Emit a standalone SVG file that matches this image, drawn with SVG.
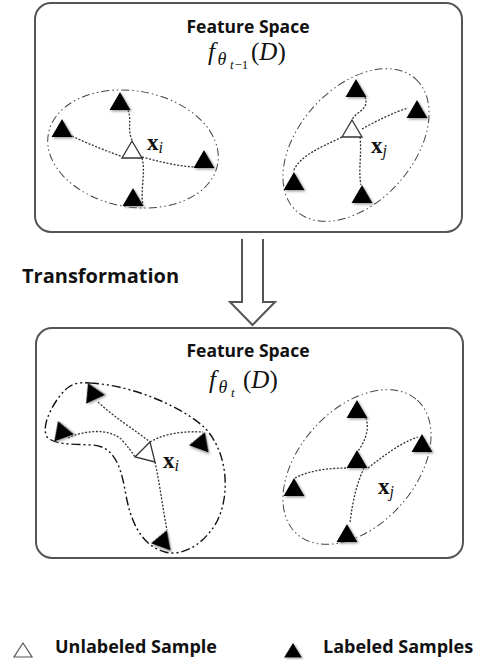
<svg xmlns="http://www.w3.org/2000/svg" xmlns:xlink="http://www.w3.org/1999/xlink" width="482" height="660" viewBox="0 0 482 660">
<style>
.box{fill:#fff;stroke:#555;stroke-width:2}
.title{font-family:"Open Sans","Liberation Sans",sans-serif;font-weight:bold;font-size:17.5px;fill:#111;text-anchor:middle}
.lbl{font-family:"Open Sans","Liberation Sans",sans-serif;font-weight:bold;fill:#111}
.math{font-family:"Liberation Serif","DejaVu Serif",serif;font-style:italic;fill:#111}
.vec{font-family:"Liberation Serif","DejaVu Serif",serif;fill:#111}
.link{fill:none;stroke:#333;stroke-width:1.3;stroke-dasharray:2 1.6}
.clu{fill:none;stroke:#444;stroke-width:1;stroke-dasharray:8 3 1.5 3 1.5 3}
.blob{fill:none;stroke:#111;stroke-width:1.4;stroke-dasharray:9 3 2 3 2 3}
.open{fill:#fff;stroke:#333;stroke-width:1.3}
</style>
<defs>
<filter id="sh" x="-30%" y="-30%" width="170%" height="170%">
<feDropShadow dx="1.5" dy="1.5" stdDeviation="1" flood-color="#777" flood-opacity="0.7"/>
</filter>
<path id="tri" d="M0,0 L10.5,18 L-10.5,18 Z" fill="#000" filter="url(#sh)"/>
<path id="otri" d="M0,0 L10,17 L-10,17 Z" class="open"/>
</defs>

<g id="box-top">
<rect class="box" x="35" y="3" width="427" height="229" rx="16"/>
<text class="title" x="248" y="33">Feature Space</text>
<text class="math" font-size="25"><tspan x="208" y="60">f</tspan><tspan x="217.5" y="65" font-size="18">θ</tspan><tspan x="230" y="69" font-size="13">t</tspan><tspan x="234.5" y="69" font-size="13" font-style="normal">−1</tspan><tspan x="251" y="60" font-style="normal">(</tspan><tspan>D</tspan><tspan font-style="normal">)</tspan></text>
</g>

<g id="arrow">
<path d="M242,239 V302 H230 L252.5,325 L275,302 H263 V239" fill="#fff" stroke="#555" stroke-width="2" stroke-linejoin="miter"/>
</g>
<text id="transformation" class="lbl" x="22" y="283" font-size="20">Transformation</text>

<g id="box-bottom">
<rect class="box" x="36" y="328" width="427" height="230" rx="16"/>
<text class="title" x="248" y="357">Feature Space</text>
<text class="math" font-size="25"><tspan x="209" y="388">f</tspan><tspan x="218.5" y="393" font-size="18">θ</tspan><tspan x="231" y="397" font-size="13">t</tspan><tspan x="243" y="388" font-style="normal">(</tspan><tspan>D</tspan><tspan font-style="normal">)</tspan></text>
</g>

<g id="clusters">
<ellipse class="clu" cx="133" cy="149" rx="86" ry="58" transform="rotate(10 133 149)"/>
<ellipse class="clu" cx="356" cy="145" rx="89" ry="57" transform="rotate(-48 356 145)"/>
<path class="blob" d="M90,383 C130,385 180,405 205,428 C230,455 230,500 215,525 C200,548 180,556 165,552 C140,545 130,520 125,490 C120,462 112,446 92,445 C72,444 55,445 47,437 C40,425 55,400 65,390 C72,383 80,382 90,383 Z"/>
<ellipse class="clu" cx="357" cy="467" rx="90" ry="58" transform="rotate(-48 357 467)"/>
</g>

<g id="connectors">
<path class="link" d="M128,110 C132,120 127,130 132,140"/>
<path class="link" d="M72,136 C90,145 110,152 123,157"/>
<path class="link" d="M142,157 C160,162 178,166 194,167"/>
<path class="link" d="M142,158 C146,172 140,190 143,205"/>
<path class="link" d="M365,97 C370,110 355,112 352,120"/>
<path class="link" d="M362,129 C378,120 395,112 408,108"/>
<path class="link" d="M342,137 C320,148 300,155 293,172"/>
<path class="link" d="M360,137 C362,155 358,170 361,185"/>
<path class="link" d="M98,402 C115,418 135,430 150,442"/>
<path class="link" d="M68,438 C85,430 110,428 122,440 C128,447 132,452 135,457"/>
<path class="link" d="M150,442 C165,433 185,431 203,432"/>
<path class="link" d="M155,462 C160,485 163,510 167,530"/>
<path class="link" d="M366,418 C370,430 364,443 358,451"/>
<path class="link" d="M295,478 C310,470 330,468 348,468"/>
<path class="link" d="M368,468 C385,455 400,443 418,437"/>
<path class="link" d="M364,468 C356,485 352,505 350,523"/>
</g>

<g id="node-top-left">
<use xlink:href="#tri" x="120" y="92"/>
<use xlink:href="#tri" x="62" y="119"/>
<use xlink:href="#tri" x="204" y="150"/>
<use xlink:href="#tri" x="133" y="188"/>
<use xlink:href="#otri" x="132" y="141"/>
<text class="vec" x="147" y="150" font-size="23" font-weight="bold">x<tspan font-size="16" font-weight="normal" font-style="italic" dy="3">i</tspan></text>
</g>

<g id="node-top-right">
<use xlink:href="#tri" x="356" y="79"/>
<use xlink:href="#tri" x="417" y="100"/>
<use xlink:href="#tri" x="294" y="172"/>
<use xlink:href="#tri" x="362" y="185"/>
<use xlink:href="#otri" x="352" y="120"/>
<text class="vec" x="371" y="153" font-size="23" font-weight="bold">x<tspan font-size="16" font-weight="normal" font-style="italic" dy="3">j</tspan></text>
</g>

<g id="node-bottom-left">
<use xlink:href="#tri" transform="translate(88,383) rotate(-25)"/>
<use xlink:href="#tri" transform="translate(58,421) rotate(-20)"/>
<use xlink:href="#tri" transform="translate(205,432) rotate(20)"/>
<use xlink:href="#tri" transform="translate(167,530) rotate(20)"/>
<path class="open" d="M150,442 L135,457 L155,462 Z"/>
<text class="vec" x="163" y="468" font-size="23" font-weight="bold">x<tspan font-size="16" font-weight="normal" font-style="italic" dy="3">i</tspan></text>
</g>

<g id="node-bottom-right">
<use xlink:href="#tri" x="357" y="400"/>
<use xlink:href="#tri" x="422" y="434"/>
<use xlink:href="#tri" x="357" y="450"/>
<use xlink:href="#tri" x="294" y="478"/>
<use xlink:href="#tri" x="347" y="524"/>
<text class="vec" x="378" y="494" font-size="23" font-weight="bold">x<tspan font-size="16" font-weight="normal" font-style="italic" dy="3">j</tspan></text>
</g>

<g id="legend">
<path d="M23,643 L32,657 L14,657 Z" fill="#fff" stroke="#555" stroke-width="1.2"/>
<text class="lbl" x="55" y="653" font-size="18">Unlabeled Sample</text>
<use xlink:href="#tri" transform="translate(293,643) scale(0.85 0.8)"/>
<text class="lbl" x="323" y="653" font-size="18">Labeled Samples</text>
</g>
</svg>
